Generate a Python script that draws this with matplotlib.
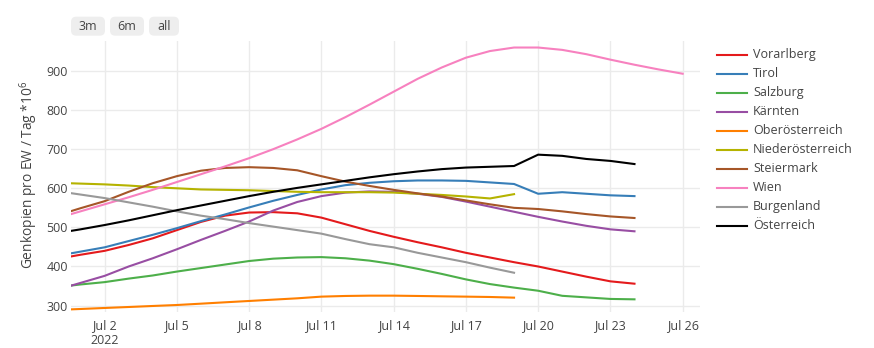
import matplotlib
matplotlib.use("Agg")
import matplotlib.pyplot as plt
import matplotlib.dates as mdates
from matplotlib.lines import Line2D
from matplotlib.patches import FancyBboxPatch
import numpy as np
import datetime as dt

plt.rcParams['font.family'] = ['Open Sans', 'DejaVu Sans']
plt.rcParams['mathtext.fontset'] = 'custom'
plt.rcParams['mathtext.rm'] = 'Open Sans'
plt.rcParams['mathtext.it'] = 'Open Sans'

start = dt.date(2022, 6, 30)

vorarlberg = [419, 430, 440, 455, 472, 493, 514, 530, 538, 539, 536, 525, 508, 491,
              476, 462, 449, 435, 423, 411, 400, 387, 374, 362, 356]
tirol = [427, 438, 449, 465, 481, 498, 516, 533, 551, 568, 583, 597, 608, 614,
         618, 620, 620, 619, 615, 611, 586, 590, 586, 582, 580]
salzburg = [347, 354, 360, 369, 377, 387, 396, 405, 414, 420, 423, 424, 421, 415,
            406, 394, 381, 367, 355, 346, 338, 325, 321, 317, 316]
kaernten = [340, 358, 376, 400, 421, 444, 468, 491, 515, 543, 565, 580, 589, 592,
            591, 586, 578, 566, 553, 540, 527, 515, 504, 495, 490]
oberoesterreich = [288.8, 291.3, 293.9, 296.4, 299, 301.5, 304.9, 308.4, 311.8, 315.2,
                   318.6, 322.9, 324.6, 325.4, 325.4, 324.6, 323.7, 322.9, 322, 320.3]
niederoesterreich = [614, 612, 610, 607, 603, 600, 597, 596, 595, 593, 591, 590, 590, 590,
                     589, 586, 583, 579, 574, 585]
steiermark = [530, 549, 567, 591, 613, 631, 645, 652, 654, 652, 646, 631, 617, 606,
              596, 587, 579, 569, 559, 550, 547, 541, 534, 528, 524]
wien = [523, 541, 559, 577, 596, 616, 636, 656, 677, 700, 725, 752, 782, 814,
        847, 880, 909, 934, 951, 960, 960, 954, 943, 929, 916, 904, 893]
burgenland = [593, 584, 575, 564, 553, 541, 530, 521, 511, 502, 493, 484, 470, 457,
              449, 435, 423, 411, 397, 384]
oesterreich = [485, 495, 506, 518, 531, 544, 556, 568, 580, 591, 601, 610, 619, 628,
               636, 643, 649, 653, 655, 657, 686, 683, 675, 670, 662]

names = ["Vorarlberg", "Tirol", "Salzburg", "Kärnten", "Oberösterreich",
         "Niederösterreich", "Steiermark", "Wien", "Burgenland", "Österreich"]
series = [vorarlberg, tirol, salzburg, kaernten, oberoesterreich,
          niederoesterreich, steiermark, wien, burgenland, oesterreich]
colors = ["#e41a1c", "#377eb8", "#4daf4a", "#984ea3", "#ff7f00",
          "#b5b300", "#a65628", "#f781bf", "#999999", "#000000"]

W, H = 874, 348
fig = plt.figure(figsize=(W / 100, H / 100), dpi=100)
L, R, T, B = 70.5, 700, 41, 312
ax = fig.add_axes([L / W, 1 - B / H, (R - L) / W, (B - T) / H])

for name, vals, c in zip(names, series, colors):
    dates = [start + dt.timedelta(days=i) for i in range(len(vals))]
    ax.plot(dates, vals, color=c, lw=1.5, solid_joinstyle='round', label=name)

x0 = dt.datetime(2022, 6, 30) + dt.timedelta(hours=0.585 * 24)
x1 = dt.datetime(2022, 7, 26) + dt.timedelta(hours=0.72 * 24)
ax.set_xlim(x0, x1)
ax.set_ylim(283.6, 976.7)

ticks = [dt.date(2022, 7, d) for d in range(2, 27, 3)]
ax.set_xticks(ticks)
ax.set_xticklabels([f"Jul {t.day}" + ("\n2022" if i == 0 else "") for i, t in enumerate(ticks)])
ax.set_yticks([300, 400, 500, 600, 700, 800, 900])

for s in ax.spines.values():
    s.set_visible(False)
ax.grid(True, color="#ebebeb", lw=1)
ax.set_axisbelow(True)
ax.tick_params(axis='both', length=0, labelsize=9, labelcolor="#444444")
ax.tick_params(axis='y', pad=2)
ax.tick_params(axis='x', pad=5)
for lab in ax.get_xticklabels():
    lab.set_linespacing(1.2)

fig.text(28.5 / W, 1 - 175 / H, r"Genkopien pro EW / Tag *10$^{6}$", rotation=90,
         ha='center', va='center', fontsize=9.9, color="#444444")

# legend
for i, (name, c) in enumerate(zip(names, colors)):
    y = 1 - (54.7 + 19 * i) / H
    fig.add_artist(Line2D([717 / W, 747 / W], [y, y], color=c, lw=1.5,
                          transform=fig.transFigure))
    fig.text(753 / W, y, name, ha='left', va='center', fontsize=9, color="#444444")

# range selector buttons
for lbl, (bx0, bx1) in zip(["3m", "6m", "all"], [(71, 105), (110, 144), (149, 179)]):
    by0, by1 = 16.7, 35.7
    p = FancyBboxPatch((bx0 / W, 1 - by1 / H), (bx1 - bx0) / W, (by1 - by0) / H,
                       boxstyle="round,pad=0,rounding_size=0.006",
                       transform=fig.transFigure, facecolor="#eeeeee", edgecolor="none",
                       mutation_aspect=W / H)
    fig.add_artist(p)
    fig.text((bx0 + bx1) / 2 / W, 1 - (by0 + by1) / 2 / H, lbl, ha='center', va='center',
             fontsize=9, color="#444444")

fig.savefig("out.png", dpi=100)
